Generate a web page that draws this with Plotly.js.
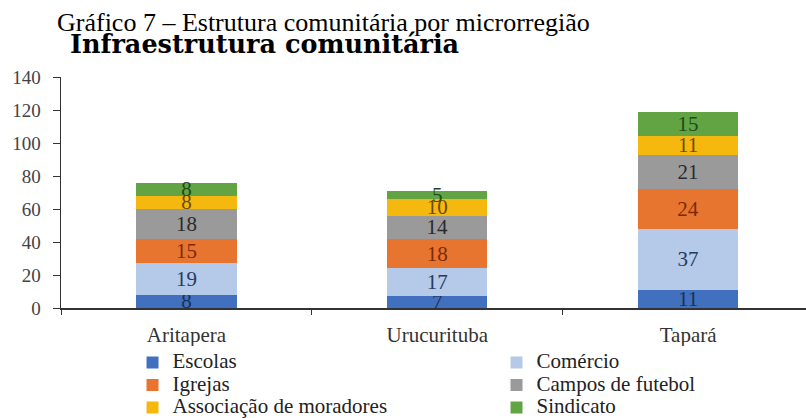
<!DOCTYPE html>
<html>
<head>
<meta charset="utf-8">
<script src="https://cdn.plot.ly/plotly-3.0.1.min.js"></script>
<style>html,body{margin:0;padding:0;background:#fff;}#chart{width:806px;height:418px;}</style>
</head>
<body>
<div id="chart"></div>
<script>
const regions = ["Aritapera", "Urucurituba", "Tapará"];
const seriesNames = ["Escolas", "Comércio", "Igrejas", "Campos de futebol", "Associação de moradores", "Sindicato"];
const escolas = [8, 7, 11];
const comercio = [19, 17, 37];
const igrejas = [15, 18, 24];
const campos = [18, 14, 21];
const associacao = [8, 10, 11];
const sindicato = [8, 5, 15];
const yTicks = [0, 20, 40, 60, 80, 100, 120, 140];

const seriesValues = [escolas, comercio, igrejas, campos, associacao, sindicato];
const fillColors = ["#4170be", "#b5c9e8", "#e8752f", "#9a9a9a", "#f5b80f", "#62a444"];
const textColors = ["#1c2f5a", "#263a5e", "#7a2a0a", "#2a2a2a", "#6b4a00", "#214a18"];
const serif = "'Liberation Serif', 'Times New Roman', serif";

const traces = seriesValues.map((vals, i) => ({
  type: "bar",
  name: '<span style="font-size:21px">' + seriesNames[i] + '</span>',
  x: regions,
  y: vals,
  width: 0.4,
  marker: {color: fillColors[i], line: {width: 0}},
  text: vals.map(String),
  texttemplate: "%{text}",
  textposition: "inside",
  insidetextanchor: "middle",
  constraintext: "none",
  textangle: 0,
  textfont: {family: serif, size: 21, color: textColors[i]},
  hoverinfo: "skip"
}));

const layout = {
  width: 806,
  height: 418,
  barmode: "stack",
  paper_bgcolor: "#fff",
  plot_bgcolor: "#fff",
  margin: {l: 61, r: 0, t: 77, b: 110, autoexpand: false},
  showlegend: true,
  legend: {
    orientation: "h",
    x: 0.096,
    xanchor: "left",
    y: -0.166,
    yanchor: "top",
    entrywidth: 319,
    entrywidthmode: "pixels",
    itemwidth: 30,
    traceorder: "normal",
    font: {family: serif, size: 15, color: "#222"}
  },
  xaxis: {
    type: "category",
    range: [-0.5, 2.47],
    showline: true,
    linecolor: "#333",
    linewidth: 1.5,
    ticks: "outside",
    tickson: "boundaries",
    ticklen: 5,
    tickcolor: "#333",
    showgrid: false,
    ticklabelstandoff: 7,
    tickfont: {family: serif, size: 21, color: "#333"}
  },
  yaxis: {
    range: [0, 140],
    tickvals: yTicks,
    ticktext: yTicks.map(String),
    showline: true,
    linecolor: "#333",
    linewidth: 1.5,
    ticks: "outside",
    ticklen: 7,
    tickcolor: "#333",
    showgrid: false,
    zeroline: false,
    ticklabelstandoff: 8,
    tickfont: {family: serif, size: 19, color: "#444"}
  },
  annotations: [
    {
      text: "Gráfico 7 – Estrutura comunitária por microrregião",
      xref: "paper", yref: "paper",
      x: -0.008, xanchor: "left",
      y: 1.236, yanchor: "middle",
      showarrow: false,
      font: {family: serif, size: 26, color: "#000"}
    },
    {
      text: "<b>Infraestrutura comunitária</b>",
      xref: "paper", yref: "paper",
      x: 0.009, xanchor: "left",
      y: 1.143, yanchor: "middle",
      showarrow: false,
      font: {family: "'DejaVu Serif', serif", size: 25.5, color: "#000"}
    }
  ]
};

Plotly.newPlot("chart", traces, layout, {displayModeBar: false, staticPlot: true});
</script>
</body>
</html>
